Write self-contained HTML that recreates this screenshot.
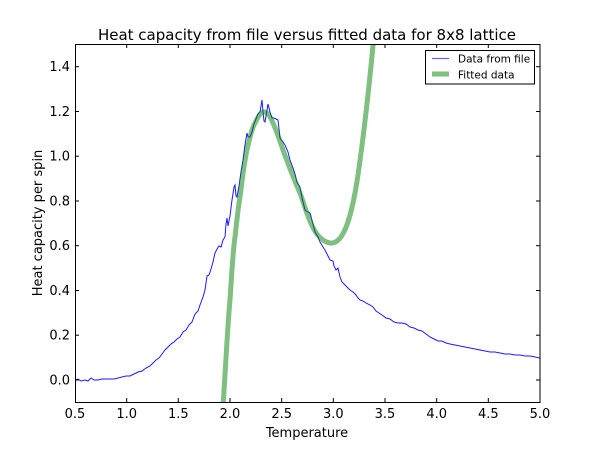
<!DOCTYPE html>
<html><head><style>
body{margin:0;background:#fff;}
svg text{font-family:"DejaVu Sans","Liberation Sans",sans-serif;fill:#000;}
</style></head><body>
<svg width="600" height="448" viewBox="0 0 600 448" xmlns="http://www.w3.org/2000/svg">
<rect width="600" height="448" fill="#fff"/>
<text x="307" y="40" font-size="15" text-anchor="middle">Heat capacity from file versus fitted data for 8x8 lattice</text>
<defs><clipPath id="c"><rect x="75" y="44" width="465" height="358"/></clipPath></defs>
<g clip-path="url(#c)">
<polyline fill="none" stroke="#1a1aff" stroke-width="1" points="75,380 78,379 81,381 85,380 88,381 91,378 94,380 98,380 102,379 106,379 110,379 114,379 118,378 122,377 126,376 130,376 134,374 138,372 142,371 146,368 150,366 153,363 156,360 159,358 162,354 165,350 168,347 171,344 174,342 177,339 180,337 183,332 186,330 189,325 192,322 195,314 198,311 200,305 203,297 205,290 207,276 209,275 211,269 213,262 215,253 217,249 219,246 221,247 223,240 225,237 226,224 227,218 228,226 230,216 232,200 234,187 235,185 236,196 237,197 239,186 241,172 243,160 245,145 247,133 248,137 250,137 252,132 254,124 256,119 258,114 260,112 262,100 263,112 264,121 265,122 266,116 268,104 270,112 272,118 274,118 276,119 278,120 280,138 283,142 285,145 288,152 290,160 293,168 295,174 297,182 300,187 302,198 305,210 308,212 310,213 313,224 315,232 318,237 320,242 323,247 325,250 328,256 330,260 333,261 334,266 336,270 338,268 340,277 342,282 345,285 348,288 350,290 353,292 356,295 358,298 360,300 363,301 366,303 370,305 373,307 376,311 379,313 382,315 386,318 390,319 394,322 398,323 402,323 406,324 410,327 414,328 418,330 422,331 426,334 430,337 434,339 438,341 442,341 446,343 450,344 455,345 460,346 465,347 470,348 475,349 480,350 485,351 490,352 495,352 500,353 505,354 510,354 515,355 520,355 525,356 530,356 535,357 540,358"/>
<path fill="none" stroke="rgb(0,128,0)" stroke-opacity="0.5" stroke-width="5" stroke-linejoin="round" d="M222,410 L223.3,402 C226,360 228,320 230,300 C232,270 233,250 235,237 C237,220 238,208 240,197 C242,182 244,163 247,150 C250,137 252,128 255,123 C258,117 260,113 263,112 C267,111 270,116 273,123 C277,132 280,141 283,150 C289,166 294,180 300,193 C306,208 312,240 330,243 C344,245 352,215 358,175 C363,140 368,100 374,35"/>
</g>
<rect x="75.5" y="44.5" width="464.5" height="358" fill="none" stroke="#000" stroke-width="1"/>
<g stroke="#000" stroke-width="1">
<line x1="126.7" y1="402" x2="126.7" y2="398"/><line x1="178.3" y1="402" x2="178.3" y2="398"/><line x1="230" y1="402" x2="230" y2="398"/><line x1="281.7" y1="402" x2="281.7" y2="398"/><line x1="333.3" y1="402" x2="333.3" y2="398"/><line x1="385" y1="402" x2="385" y2="398"/><line x1="436.7" y1="402" x2="436.7" y2="398"/><line x1="488.3" y1="402" x2="488.3" y2="398"/>
<line x1="126.7" y1="44" x2="126.7" y2="48"/><line x1="178.3" y1="44" x2="178.3" y2="48"/><line x1="230" y1="44" x2="230" y2="48"/><line x1="281.7" y1="44" x2="281.7" y2="48"/><line x1="333.3" y1="44" x2="333.3" y2="48"/><line x1="385" y1="44" x2="385" y2="48"/><line x1="436.7" y1="44" x2="436.7" y2="48"/><line x1="488.3" y1="44" x2="488.3" y2="48"/>
<line x1="75" y1="380" x2="79" y2="380"/><line x1="75" y1="335.2" x2="79" y2="335.2"/><line x1="75" y1="290.5" x2="79" y2="290.5"/><line x1="75" y1="245.7" x2="79" y2="245.7"/><line x1="75" y1="201" x2="79" y2="201"/><line x1="75" y1="156.2" x2="79" y2="156.2"/><line x1="75" y1="111.5" x2="79" y2="111.5"/><line x1="75" y1="66.7" x2="79" y2="66.7"/>
<line x1="540" y1="380" x2="536" y2="380"/><line x1="540" y1="335.2" x2="536" y2="335.2"/><line x1="540" y1="290.5" x2="536" y2="290.5"/><line x1="540" y1="245.7" x2="536" y2="245.7"/><line x1="540" y1="201" x2="536" y2="201"/><line x1="540" y1="156.2" x2="536" y2="156.2"/><line x1="540" y1="111.5" x2="536" y2="111.5"/><line x1="540" y1="66.7" x2="536" y2="66.7"/>
</g>
<g font-size="13" text-anchor="middle">
<text x="75" y="418">0.5</text><text x="126.7" y="418">1.0</text><text x="178.3" y="418">1.5</text><text x="230" y="418">2.0</text><text x="281.7" y="418">2.5</text><text x="333.3" y="418">3.0</text><text x="385" y="418">3.5</text><text x="436.7" y="418">4.0</text><text x="488.3" y="418">4.5</text><text x="540" y="418">5.0</text>
</g>
<g font-size="13" text-anchor="end">
<text x="70" y="384.5">0.0</text><text x="70" y="339.7">0.2</text><text x="70" y="295">0.4</text><text x="70" y="250.2">0.6</text><text x="70" y="205.5">0.8</text><text x="70" y="160.7">1.0</text><text x="70" y="116">1.2</text><text x="70" y="71.2">1.4</text>
</g>
<text x="307" y="437" font-size="13" text-anchor="middle">Temperature</text>
<text transform="translate(42,223) rotate(-90)" font-size="13" text-anchor="middle">Heat capacity per spin</text>
<rect x="425.5" y="50.5" width="109" height="33.5" fill="#fff" stroke="#000" stroke-width="1"/>
<line x1="432" y1="58.5" x2="449" y2="58.5" stroke="#0000ff" stroke-opacity="0.6" stroke-width="1.2"/>
<line x1="432" y1="74" x2="449" y2="74" stroke="rgb(0,128,0)" stroke-opacity="0.5" stroke-width="5"/>
<text x="458" y="62.5" font-size="10.5">Data from file</text>
<text x="458" y="78.5" font-size="10.5">Fitted data</text>
</svg>
</body></html>
